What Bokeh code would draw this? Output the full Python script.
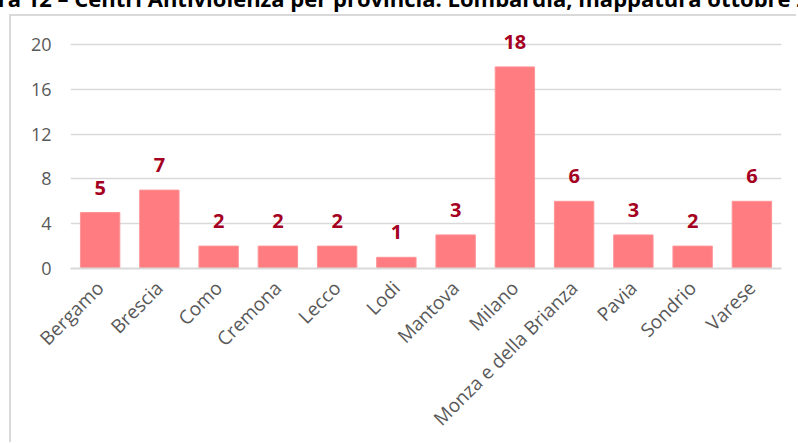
from bokeh.plotting import figure
from bokeh.models import ColumnDataSource, Range1d, FixedTicker, LabelSet, Div
from bokeh.layouts import column
from bokeh.core.properties import value
from bokeh.embed import file_html
from bokeh.resources import INLINE
import math

provinces = ["Bergamo", "Brescia", "Como", "Cremona", "Lecco", "Lodi", "Mantova",
             "Milano", "Monza e della Brianza", "Pavia", "Sondrio", "Varese"]
centri = [5, 7, 2, 2, 2, 1, 3, 18, 6, 3, 2, 6]
y_ticks = [0, 4, 8, 12, 16, 20]
title_text = "Figura 12 – Centri Antiviolenza per provincia. Lombardia, mappatura ottobre 2019"

src = ColumnDataSource(dict(prov=provinces, val=centri, lab=[str(v) for v in centri]))

# title strip: only the lower part of the (cut-off) title line is visible
title_div = Div(
    text=('<div style="font-family:\'Open Sans\';font-weight:bold;font-size:22px;'
          'line-height:22px;white-space:nowrap;position:relative;left:-48px;top:-13px;'
          'margin:0;padding:0;color:black">' + title_text + '</div>'),
    width=798, height=14, margin=(0, 0, 0, 0),
    styles={"overflow": "hidden", "padding": "0", "margin": "0"})

p = figure(x_range=provinces, y_range=Range1d(0, 240 / 11.2),
           width=787, height=428, output_backend="svg", toolbar_location=None,
           min_border_left=59, min_border_right=17, min_border_top=12, min_border_bottom=176)
p.margin = (0, 0, 0, 9)
p.styles = {"border-left": "2px solid #D9D9D9", "border-top": "2px solid #D9D9D9"}
p.outline_line_color = None
p.background_fill_color = "white"
p.border_fill_color = "white"

p.vbar(x="prov", top="val", width=0.665, source=src, fill_color="#FF7C80",
       line_color="#FF9497", line_width=1)

labels = LabelSet(x="prov", y="val", text="lab", source=src, y_offset=18,
                  text_align="center", text_baseline="bottom",
                  text_font=value("Open Sans"), text_font_style="bold", text_font_size="20px",
                  text_color="#A50021")
p.add_layout(labels)

p.yaxis.ticker = FixedTicker(ticks=y_ticks)
p.ygrid.ticker = FixedTicker(ticks=y_ticks)
p.ygrid.grid_line_color = "#D9D9D9"
p.ygrid.grid_line_width = 1.5
p.xgrid.grid_line_color = None

p.yaxis.axis_line_color = None
p.yaxis.major_tick_line_color = None
p.yaxis.minor_tick_line_color = None
p.yaxis.major_label_standoff = 13
p.yaxis.major_label_text_font = "Open Sans"
p.yaxis.major_label_text_font_size = "18px"
p.yaxis.major_label_text_color = "#595959"

p.xaxis.axis_line_color = "#D9D9D9"
p.xaxis.axis_line_width = 2
p.xaxis.major_tick_line_color = None
p.xaxis.minor_tick_line_color = None
p.xaxis.major_label_orientation = math.pi / 4
p.xaxis.major_label_standoff = 10
p.xaxis.major_label_text_font = "Open Sans"
p.xaxis.major_label_text_font_size = "19px"
p.xaxis.major_label_text_color = "#595959"

layout = column(title_div, p, spacing=0)

open("out.html", "w").write(file_html(layout, INLINE))
